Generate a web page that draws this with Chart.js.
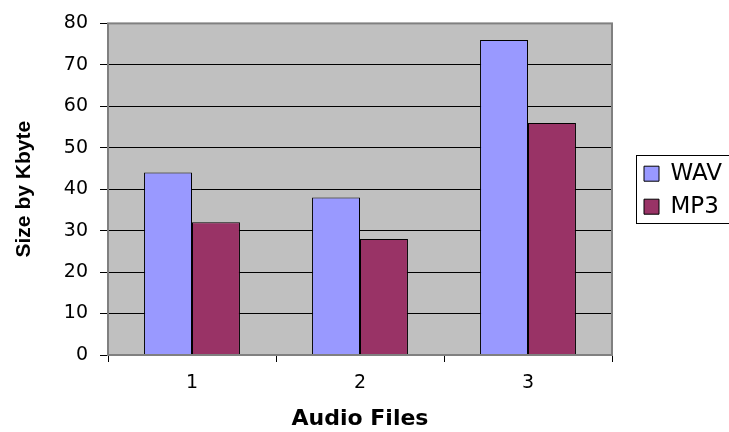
<!DOCTYPE html>
<html>
<head>
<meta charset="utf-8">
<script src="https://cdn.jsdelivr.net/npm/chart.js@4.4.1/dist/chart.umd.min.js"></script>
<style>
  html, body { margin: 0; padding: 0; background: #fff; overflow: hidden; }
  #wrap { width: 760px; height: 432px; position: relative; }
</style>
</head>
<body>
<div id="wrap"><canvas id="chart"></canvas></div>
<script>
// datos del grafico
const categories = ['1', '2', '3'];
const wavSizes = [44, 38, 76];
const mp3Sizes = [32, 28, 56];
const seriesNames = ['WAV', 'MP3'];
const yTicks = [0, 10, 20, 30, 40, 50, 60, 70, 80];

const SANS = '"Liberation Sans", Arial, sans-serif';
const WIDE = '"DejaVu Sans", sans-serif';

// fondo gris del area del grafico y borde
const plotArea = {
  id: 'plotArea',
  beforeDraw(chart) {
    const { ctx, chartArea: a } = chart;
    ctx.save();
    ctx.fillStyle = '#C0C0C0';
    ctx.fillRect(a.left, a.top, a.right - a.left, a.bottom - a.top);
    ctx.restore();
  },
  afterDatasetsDraw(chart) {
    const { ctx, chartArea: a } = chart;
    ctx.save();
    ctx.strokeStyle = '#808080';
    ctx.lineWidth = 2;
    ctx.strokeRect(a.left, a.top, a.right - a.left, a.bottom - a.top);
    ctx.restore();
  }
};

// leyenda con ancho fijo, centrada en el area del grafico y con marco
const legendFrame = {
  id: 'legendFrame',
  afterInit(chart) {
    const lg = chart.legend;
    const fit = lg.fit;
    lg.fit = function () {
      fit.call(this);
      this.width = 148;
    };
  },
  afterLayout(chart) {
    const lg = chart.legend;
    const a = chart.chartArea;
    lg.left += 22;
    lg.top = a.top + 1;
    lg.bottom = a.bottom + 1;
    lg.height = lg.bottom - lg.top;
  },
  afterDraw(chart) {
    const { ctx, chartArea: a } = chart;
    const mid = (a.top + a.bottom) / 2;
    ctx.save();
    ctx.strokeStyle = '#000';
    ctx.lineWidth = 1;
    ctx.strokeRect(Math.round(a.right + 24) + 0.5, Math.round(mid - 34) + 0.5, 200, 68);
    ctx.restore();
  }
};

new Chart(document.getElementById('chart'), {
  type: 'bar',
  data: {
    labels: categories,
    datasets: [
      { label: seriesNames[0], data: wavSizes, backgroundColor: '#9999FF', borderColor: '#000', borderWidth: 1 },
      { label: seriesNames[1], data: mp3Sizes, backgroundColor: '#993366', borderColor: '#000', borderWidth: 1 }
    ]
  },
  options: {
    responsive: true,
    maintainAspectRatio: false,
    animation: false,
    categoryPercentage: 0.571,
    barPercentage: 1,
    layout: { padding: { top: 21, left: 0, right: 0, bottom: 0 } },
    plugins: {
      tooltip: { enabled: false },
      legend: {
        position: 'right',
        labels: {
          color: '#000',
          font: { family: WIDE, size: 23 },
          boxWidth: 15,
          boxHeight: 15,
          padding: 10
        }
      }
    },
    scales: {
      x: {
        grid: { display: true, drawOnChartArea: false, color: '#000', tickLength: 7, offset: true },
        border: { display: false },
        ticks: { color: '#000', font: { family: WIDE, size: 19 }, padding: 10 },
        title: {
          display: true, text: 'Audio Files', color: '#000',
          font: { family: WIDE, size: 22, weight: 'bold' },
          padding: { top: 0, bottom: 0 }
        },
        afterFit(scale) { scale.height = 77; }
      },
      y: {
        min: yTicks[0],
        max: yTicks[yTicks.length - 1],
        afterBuildTicks(scale) { scale.ticks = yTicks.map(v => ({ value: v })); },
        grid: { color: '#000', lineWidth: 1, tickLength: 8 },
        border: { display: false },
        ticks: { color: '#000', font: { family: WIDE, size: 19 }, padding: 12 },
        title: {
          display: true, text: 'Size by Kbyte', color: '#000',
          font: { family: SANS, size: 21, weight: 'bold' },
          padding: { top: 12, bottom: 0 }
        },
        afterFit(scale) { scale.width = 108; }
      }
    }
  },
  plugins: [plotArea, legendFrame]
});
</script>
</body>
</html>
